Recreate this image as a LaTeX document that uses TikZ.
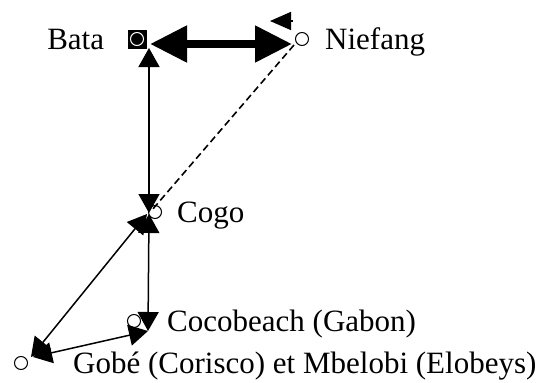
\documentclass[tikz,border=0pt]{standalone}
\usepackage{fontspec}
\setmainfont{Liberation Serif}
\usetikzlibrary{positioning, arrows.meta}

\begin{document}
\begin{tikzpicture}[x=1pt,y=-1pt,
    town/.style={circle,draw,line width=1pt,inner sep=0pt,minimum size=13pt},
    capital/.style={rectangle,fill=black,inner sep=0pt,minimum size=19pt},
    place/.style={inner sep=0pt,text height=24pt,text depth=4pt,font=\fontsize{31}{36}\selectfont},
    route/.style={<->,>={Triangle[length=19pt,width=21pt]},line width=1.5pt},
    road/.style={<->,>={Triangle[length=37pt,width=35pt]},line width=8pt},
    track/.style={line width=1.6pt,dash pattern=on 7pt off 4pt}]
  \useasboundingbox (0,0) rectangle (544,383);
  % towns
  \node[capital] (bata) at (137,39) {};
  \node[town,draw=white] (batadot) at (bata) {};
  \node[town] (niefang) at (302,39) {};
  \node[town] (cogo) at (155,212) {};
  \node[town] (coco) at (134,321) {};
  \node[town] (gobe) at (21,363) {};
  % names
  \node[place] (batalbl) [left=23pt of bata] {Bata};
  \node[place] (niefanglbl) [right=16pt of niefang] {Niefang};
  \node[place] (cogolbl) [right=15pt of cogo] {Cogo};
  \node[place] (cocolbl) [right=26pt of coco] {Cocobeach (Gabon)};
  \node[place] (gobelbl) [right=45pt of gobe] {Gobé (Corisco) et Mbelobi (Elobeys)};
  % links
  \draw[road] ([shift={(13,5)}]bata.center) -- ([shift={(-10,5)}]niefang.center);
  \draw[route] ([shift={(12,9)}]bata.center) -- ([shift={(-6,1)}]cogo.center);
  \draw[track] ([shift={(-8,6)}]niefang.center) -- ([shift={(-3,-2)}]cogo.center);
  \draw[route] ([shift={(-6,2)}]cogo.center) -- ([shift={(14,10)}]coco.center);
  \draw[route] ([shift={(-8,2)}]cogo.center) -- ([shift={(10,-6)}]gobe.center);
  \draw[route] ([shift={(12,-6)}]gobe.center) -- ([shift={(14,10)}]coco.center);
  \coordinate (nfstub) at ([shift={(-9,-18)}]niefang.center);
  \coordinate (nftip) at ([shift={(-32,-18)}]niefang.center);
  \draw[->,>={Triangle[length=21pt,width=18pt]},line width=1.5pt] (nfstub) -- (nftip);
\end{tikzpicture}
\end{document}
